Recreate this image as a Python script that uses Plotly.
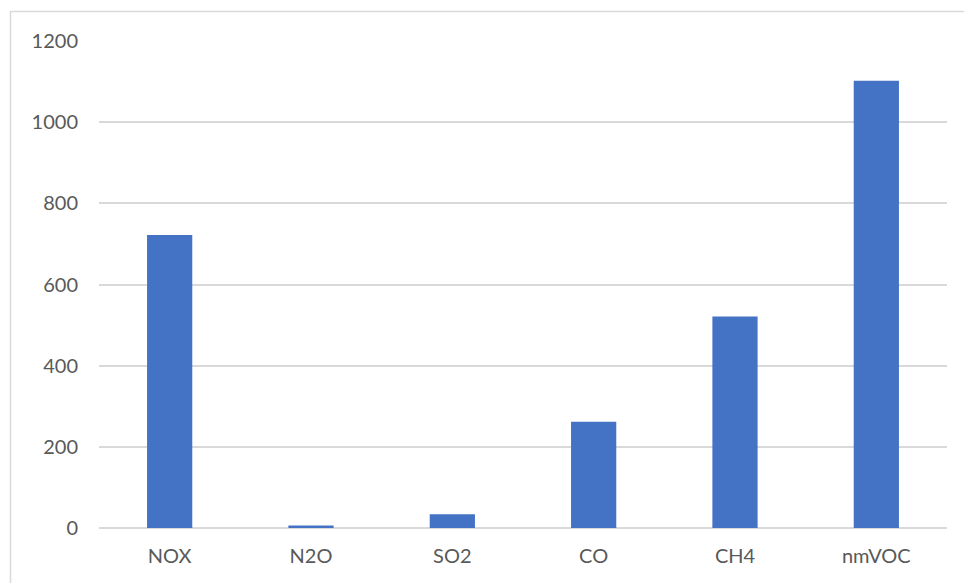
import plotly.graph_objects as go

# Emissions by pollutant
pollutants = ["NOX", "N2O", "SO2", "CO", "CH4", "nmVOC"]
emissions = [722, 6, 34, 262, 521, 1102]

y_ticks = [0, 200, 400, 600, 800, 1000, 1200]

W, H = 964, 583
L, R, T, B = 99, 17, 41, 55
pw, ph = W - L - R, H - T - B

fig = go.Figure(
    go.Bar(
        x=pollutants,
        y=emissions,
        marker=dict(color="#4472C4", line=dict(width=0)),
        hoverinfo="x+y",
    )
)

def px_x(p):
    return (p - L) / pw

def px_y(p):
    return (H - B - p) / ph

fig.update_layout(
    width=W,
    height=H,
    margin=dict(l=L, r=R, t=T, b=B),
    paper_bgcolor="white",
    plot_bgcolor="white",
    bargap=0.68,
    showlegend=False,
    font=dict(family="Lato, 'Open Sans', sans-serif", size=20, color="#595959"),
    xaxis=dict(
        showgrid=False,
        showline=False,
        ticks="",
        ticklabelstandoff=14,
        tickfont=dict(size=20, color="#595959"),
    ),
    yaxis=dict(
        range=[0, 1200],
        tickvals=y_ticks,
        ticks="",
        showgrid=True,
        gridcolor="#D9D9D9",
        gridwidth=1.5,
        zeroline=True,
        zerolinecolor="#D9D9D9",
        zerolinewidth=1.5,
        showline=False,
        ticklabelstandoff=20,
        tickfont=dict(size=20, color="#595959"),
    ),
    shapes=[
        dict(
            type="rect",
            xref="paper",
            yref="paper",
            x0=px_x(10.5),
            x1=px_x(990),
            y0=px_y(600),
            y1=px_y(11.5),
            line=dict(color="#D9D9D9", width=1.5),
            fillcolor="rgba(0,0,0,0)",
            layer="below",
        )
    ],
)

fig.write_html("out.html")
